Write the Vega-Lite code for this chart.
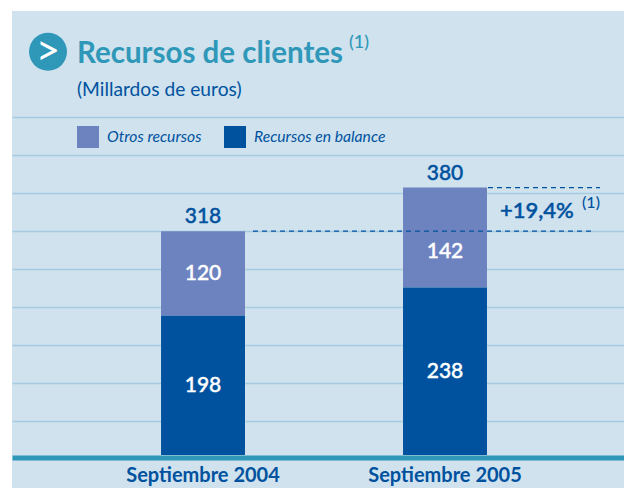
{
"$schema":"https://vega.github.io/schema/vega-lite/v6.json",
"width":612,"height":477,"autosize":{"type":"none"},
"padding":{"left":12,"top":11,"right":0,"bottom":0},
"background":"#ffffff",
"view":{"fill":"#cfe2ee","stroke":null},
"title":{"text":"Recursos de clientes","subtitle":"(Millardos de euros)","anchor":"start","frame":"group","dx":65,"offset":-90,"font":"Lato","fontSize":29.5,"fontWeight":"bold","color":"#2f98b9","subtitleFont":"Lato","subtitleFontSize":19.2,"subtitleColor":"#00529f","subtitlePadding":11},
"data":{"values":[{}]},
"datasets":{
"bars":[
{"period":"Septiembre 2004","series":"Otros recursos","value":120},
{"period":"Septiembre 2004","series":"Recursos en balance","value":198},
{"period":"Septiembre 2005","series":"Otros recursos","value":142},
{"period":"Septiembre 2005","series":"Recursos en balance","value":238}],
"totals":[{"period":"Septiembre 2004","total":318},{"period":"Septiembre 2005","total":380}]
},
"encoding":{
"x":{"field":"period","type":"nominal","scale":{"type":"band","domain":["Septiembre 2004","Septiembre 2005"],"range":[0,612],"paddingInner":0.653,"paddingOuter":0.591,"align":0.521},
"axis":{"title":null,"labelAngle":0,"domain":true,"domainColor":"#2f98b9","domainWidth":5,"ticks":false,"grid":false,"offset":-30.5,"labelPadding":8,"labelFont":"Lato","labelFontWeight":"bold","labelFontSize":20,"labelColor":"#00529f"}},
"y":{"type":"quantitative","scale":{"domain":[-46.9,630.9],"nice":false,"zero":false}}
},
"layer":[
{"data":{"name":"bars"},"mark":{"type":"bar"},
"encoding":{"y":{"field":"value","type":"quantitative","stack":"zero","title":null,"scale":{"domain":[-46.9,630.9],"nice":false,"zero":false},
"axis":{"values":[48,102,156,210,264,318,372,426,480],"labels":false,"ticks":false,"domain":false,"title":null,"grid":true,"gridColor":"#a6cbe0","gridWidth":1.5}},
"color":{"field":"series","type":"nominal","scale":{"domain":["Otros recursos","Recursos en balance"],"range":["#6d83bf","#00529f"]},
"legend":{"title":null,"orient":"none","legendX":65,"legendY":115,"direction":"horizontal","columns":2,"symbolType":"square","symbolSize":484,"symbolStrokeWidth":0,"symbolOpacity":1,"labelFont":"Lato","labelFontStyle":"italic","labelFontSize":15.7,"labelColor":"#00529f","columnPadding":22,"labelOffset":8}}}},
{"data":{"name":"bars"},"transform":[{"filter":"datum.value != 142"}],"mark":{"type":"text","font":"Lato","fontWeight":500,"fontSize":21,"color":"#ffffff","stroke":"#ffffff","strokeWidth":0.4,"dy":1},
"encoding":{"y":{"field":"value","type":"quantitative","stack":"zero","bandPosition":0.5},"detail":{"field":"series"},"text":{"field":"value","type":"quantitative"}}},
{"data":{"values":[{"period":"Septiembre 2005","value":142,"top":380}]},"mark":{"type":"text","font":"Lato","fontWeight":500,"fontSize":21,"color":"#ffffff","stroke":"#ffffff","strokeWidth":0.4,"dy":64},
"encoding":{"y":{"field":"top","type":"quantitative"},"text":{"field":"value","type":"quantitative"}}},
{"data":{"name":"totals"},"mark":{"type":"text","font":"Lato","fontWeight":500,"fontSize":21,"color":"#00529f","stroke":"#00529f","strokeWidth":0.4,"dy":-14},
"encoding":{"y":{"field":"total","type":"quantitative"},"text":{"field":"total","type":"quantitative"}}},
{"mark":{"type":"rule","color":"#00529f","strokeWidth":1.3,"strokeDash":[5,4],"xOffset":50,"x2Offset":150},
"encoding":{"x":{"datum":"Septiembre 2004"},"x2":{"datum":"Septiembre 2005"},"y":{"datum":318}}},
{"mark":{"type":"rule","color":"#00529f","strokeWidth":1.3,"strokeDash":[5,4],"xOffset":43,"x2Offset":155},
"encoding":{"x":{"datum":"Septiembre 2005"},"x2":{"datum":"Septiembre 2005"},"y":{"datum":380}}},
{"mark":{"type":"text","font":"Lato","fontWeight":500,"fontSize":22,"color":"#00529f","stroke":"#00529f","strokeWidth":0.5,"align":"left","xOffset":55},
"encoding":{"x":{"datum":"Septiembre 2005"},"y":{"datum":346},"text":{"value":"+19,4%"}}},
{"mark":{"type":"text","font":"Lato","fontSize":16,"fontWeight":500,"color":"#00529f","xOffset":146},
"encoding":{"x":{"datum":"Septiembre 2005"},"y":{"datum":358},"text":{"value":"(1)"}}},
{"mark":{"type":"text","font":"Lato","fontSize":18,"fontWeight":500,"color":"#2f98b9","xOffset":156},
"encoding":{"x":{"datum":"Septiembre 2004"},"y":{"datum":585},"text":{"value":"(1)"}}},
{"mark":{"type":"point","shape":"circle","size":1444,"filled":true,"opacity":1,"color":"#2f98b9","xOffset":-155},
"encoding":{"x":{"datum":"Septiembre 2004"},"y":{"datum":573}}},
{"mark":{"type":"text","font":"Lato","fontSize":42,"fontWeight":"normal","color":"#ffffff","xOffset":-155},
"encoding":{"x":{"datum":"Septiembre 2004"},"y":{"datum":573},"text":{"value":">"}}}
]
}
